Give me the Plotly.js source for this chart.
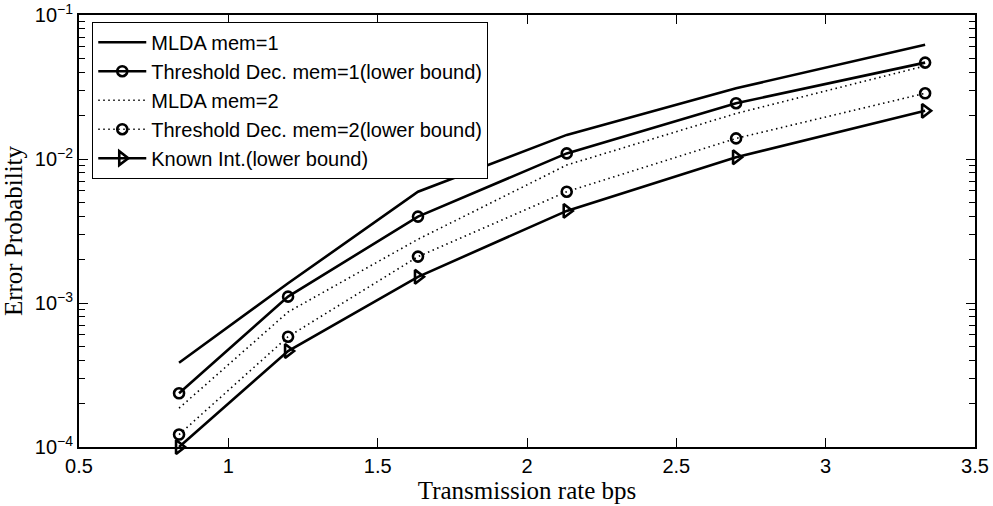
<!DOCTYPE html>
<html>
<head>
<meta charset="utf-8">
<script src="https://cdn.plot.ly/plotly-3.0.1.min.js"></script>
<style>
  html, body { margin: 0; padding: 0; background: #ffffff; }
  #chart { width: 993px; height: 506px; }
</style>
</head>
<body>
<div id="chart"></div>
<script>
// Transmission rate (bps) at each simulated operating point
const rate = [0.835, 1.2, 1.635, 2.133, 2.7, 3.333];

// Error probability per decoder
const mldaMem1 = [3.85e-4, 1.37e-3, 5.93e-3, 0.0147, 0.031, 0.0622];
const thresholdMem1 = [2.36e-4, 1.107e-3, 3.98e-3, 0.01094, 0.0244, 0.0467];
const mldaMem2 = [1.86e-4, 8.66e-4, 2.77e-3, 9.08e-3, 0.0207, 0.0443];
const thresholdMem2 = [1.22e-4, 5.83e-4, 2.1e-3, 5.93e-3, 0.0139, 0.0286];
const knownInt = [1.0e-4, 4.64e-4, 1.52e-3, 4.36e-3, 0.01028, 0.0216];

const seriesNames = [
  'MLDA mem=1',
  'Threshold Dec. mem=1(lower bound)',
  'MLDA mem=2',
  'Threshold Dec. mem=2(lower bound)',
  'Known Int.(lower bound)'
];

const yTickVals = [1e-4, 1e-3, 1e-2, 1e-1];
const yTickText = ['10<sup>−4</sup>', '10<sup>−3</sup>', '10<sup>−2</sup>', '10<sup>−1</sup>'];

const sans = 'Liberation Sans, Arial, Helvetica, sans-serif';
const serif = 'Liberation Serif, Times New Roman, serif';
const dotted = '1.5px,3.5px';

const traces = [
  {
    x: rate, y: mldaMem1, name: seriesNames[0], mode: 'lines',
    line: { color: '#000', width: 2.6 }
  },
  {
    x: rate, y: thresholdMem1, name: seriesNames[1], mode: 'lines+markers',
    line: { color: '#000', width: 2.6 },
    marker: { symbol: 'circle-open', size: 10, color: '#000', line: { width: 2.6, color: '#000' } }
  },
  {
    x: rate, y: mldaMem2, name: seriesNames[2], mode: 'lines',
    line: { color: '#000', width: 1.6, dash: dotted }
  },
  {
    x: rate, y: thresholdMem2, name: seriesNames[3], mode: 'lines+markers',
    line: { color: '#000', width: 1.6, dash: dotted },
    marker: { symbol: 'circle-open', size: 10, color: '#000', line: { width: 2.6, color: '#000' } }
  },
  {
    x: rate, y: knownInt, name: seriesNames[4], mode: 'lines+markers',
    line: { color: '#000', width: 2.6 },
    marker: { symbol: 'triangle-right-open', size: 12, color: '#000', line: { width: 2.6, color: '#000' } }
  }
].map(t => Object.assign(t, { type: 'scatter', cliponaxis: false }));

const layout = {
  width: 993,
  height: 506,
  margin: { l: 79, r: 18, t: 15, b: 59 },
  paper_bgcolor: '#ffffff',
  plot_bgcolor: '#ffffff',
  font: { family: sans, size: 20, color: '#000' },
  showlegend: true,
  legend: {
    x: 0.0148, y: 0.9845, xanchor: 'left', yanchor: 'top',
    bgcolor: '#ffffff', bordercolor: '#000', borderwidth: 1,
    font: { family: sans, size: 20, color: '#000' },
    itemwidth: 48, tracegroupgap: 0,
    entrywidth: 400, entrywidthmode: 'pixels'
  },
  xaxis: {
    range: [0.5, 3.5],
    dtick: 0.5, tick0: 0.5,
    ticks: 'inside', ticklen: 9, tickwidth: 1, tickcolor: '#000',
    showline: true, linecolor: '#000', linewidth: 2, mirror: 'ticks',
    showgrid: false, zeroline: false,
    tickfont: { family: sans, size: 20, color: '#000' },
    title: { text: 'Transmission rate bps', font: { family: serif, size: 25, color: '#000' }, standoff: 0 }
  },
  yaxis: {
    type: 'log',
    range: [-4, -1],
    tickvals: yTickVals, ticktext: yTickText,
    ticks: 'inside', ticklen: 9, tickwidth: 1, tickcolor: '#000',
    minor: { ticks: 'inside', ticklen: 6, tickwidth: 1, tickcolor: '#000', dtick: 'D1', showgrid: false },
    showline: true, linecolor: '#000', linewidth: 2, mirror: 'ticks',
    showgrid: false, zeroline: false,
    tickfont: { family: sans, size: 20, color: '#000' },
    title: { text: 'Error Probability', font: { family: serif, size: 25, color: '#000' }, standoff: 6 }
  }
};

Plotly.newPlot('chart', traces, layout, { displayModeBar: false, staticPlot: true });
</script>
</body>
</html>
